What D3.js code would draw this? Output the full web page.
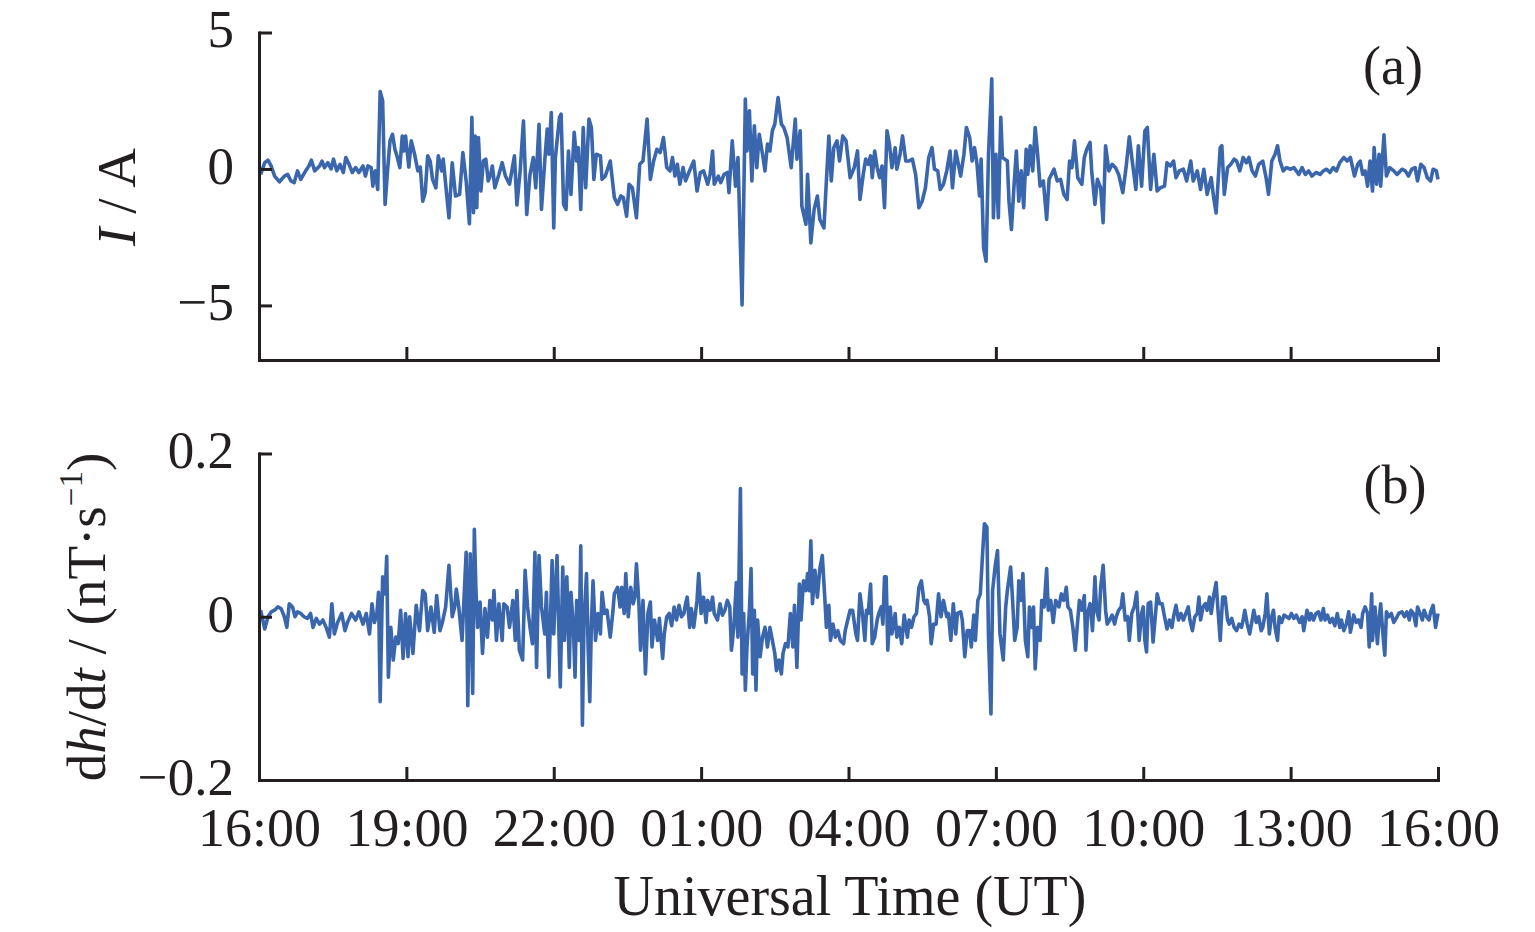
<!DOCTYPE html>
<html><head><meta charset="utf-8">
<script src="https://cdn.jsdelivr.net/npm/d3@7"></script>
<style>
body{margin:0;background:#fff;}
svg{display:block;}
text{font-family:"Liberation Serif","Times New Roman",serif;fill:#231f20;}
</style>
</head><body>
<svg id="chart" width="1535" height="932"></svg>
<script>
// ---- Data: minutes since 16:00 UT ----
const timeA = [2,7,11,15,19,25,31,35,39,43,47,51,57,61,64,68,74,77,80,84,88,91,95,99,103,106,110,114,118,122,127,130,133,137,139,142,145,148,151,154,157,160,163,166,169,172,175,177,179,183,186,190,194,197,200,203,206,209,212,216,219,223,225,228,232,236,240,245,249,253,257,260,262,264,266,268,271,274,277,280,283,285,288,293,297,301,306,312,315,319,323,327,331,335,338,342,345,349,352,354,357,360,362,
367,369,372,375,378,381,385,388,390,393,396,399,403,406,409,412,417,419,423,429,434,438,442,445,449,452,456,461,465,469,474,478,482,486,490,494,498,502,505,508,511,514,518,521,525,531,535,539,543,548,551,554,556,561,564,568,572,574,578,582,585,590,594,596,599,602,605,608,611,615,618,621,624,627,630,634,638,641,645,650,655,657,661,663,668,670,674,678,682,685,690,693,696,699,702,706,709,713,717,722,
727,731,734,738,741,744,747,749,752,755,758,761,764,767,770,773,777,779,783,786,790,794,798,802,806,810,814,818,822,825,829,832,836,840,844,847,851,857,861,864,868,871,874,877,880,882,885,888,891,895,897,900,903,906,908,914,916,919,922,925,928,931,934,937,939,942,945,948,951,954,958,962,965,971,975,979,983,987,990,993,996,1000,1005,1008,1011,1015,1017,1021,1024,1028,1031,1034,1038,1042,1046,1050,1055,1059,1063,1066,1071,1074,1078,1082,
1085,1089,1093,1097,1101,1106,1109,1113,1117,1120,1124,1129,1133,1138,1141,1146,1150,1154,1158,1163,1166,1169,1174,1176,1179,1183,1187,1191,1194,1198,1202,1206,1209,1213,1217,1221,1226,1230,1233,1237,1241,1244,1247,1251,1255,1260,1264,1270,1274,1278,1282,1286,1291,1296,1300,1304,1308,1312,1316,1320,1325,1329,1333,1338,1342,1345,1348,1351,1354,1357,1360,1362,1365,1368,1370,1374,1377,1381,1386,1390,1396,1400,1404,1408,1412,1415,1419,1423,1427,1431,1434,1438,1440];

// Induced current I (A)
const currentA = [-0.2,0.23,0.32,0.1,-0.26,-0.47,-0.26,-0.2,-0.44,-0.5,-0.07,-0.38,-0.07,0.11,0.32,-0.07,0.11,0.29,0.05,0.23,0,0.36,-0.07,0.17,-0.13,0.42,0.17,-0.13,0.05,-0.13,0.11,-0.26,0.11,0.05,-0.63,-0.07,-0.75,2.84,2.5,-1.3,-0.07,1.03,1.27,0.72,0.42,0.05,1.21,0.66,1.21,0.07,1.03,0.54,-0.07,0.07,-1.18,-0.87,0.48,0.29,-0.38,-0.69,0.48,-0.07,0.36,-0.56,-1.79,0.23,-0.99,-0.93,0.6,-0.44,-2.01,1.89,-1.6,1.21,-1.42,1.15,-0.81,0.29,0.36,-0.44,-0.2,0.11,-0.69,-0.2,0.23,-0.26,-0.56,0.48,-1.32,-0.07,1.76,-1.67,-0.2,0.42,-0.69,1.64,-1.48,0.29,1.46,0.54,2.07,-2.16,0.42,
1.89,2.01,-1.3,-1.48,0.66,-0.93,1.34,0.29,0.78,-1.48,1.52,-0.69,1.83,1.52,-0.38,0.54,0.48,-0.38,-0.26,0.29,-1.05,-1.3,-0.99,-1.05,-1.73,-0.56,-0.69,-1.79,0.17,0.29,1.83,-0.38,0.29,0.72,0.6,1.15,0.05,-0.07,0.42,-0.26,0.17,-0.56,0.05,-0.44,-0.13,0.29,-0.81,-0.13,-0.07,-0.56,-0.2,0.66,-0.56,-0.26,-0.5,-0.2,-0.13,-0.87,1.03,-0.63,0.42,-4.98,2.56,0.66,2.13,-0.44,1.58,0.05,1.27,0.54,-0.07,0.91,0.66,1.4,1.64,2.62,1.64,1.52,1.15,0.05,1.83,0.36,1.4,-1.36,-2.03,-0.2,-2.71,-1.48,-0.99,-1.85,-2.16,-0.44,1.21,-0.44,0.78,1.03,0.29,1.21,1.03,-0.32,
0.05,0.66,-1.12,-0.2,0.36,0.17,0.48,-0.32,0.66,0.05,-0.32,0.11,-1.42,1.4,0.91,0.05,0.78,-0.01,0.54,1.21,0.29,0.29,0.36,-0.2,-1.42,-1.18,-0.69,0.42,0.78,-0.01,-0.07,-0.75,-0.56,-0.07,0.66,-0.69,0.66,-0.26,0.54,1.52,1.15,0.29,0.78,0.17,-0.99,0.36,-2.89,-3.38,0.54,3.3,-1.79,0.54,-1.79,1.89,0.42,0.29,-1.18,-2.22,-0.69,0.66,-1.18,-0.07,-1.42,0.72,-0.2,0.85,-0.07,1.52,0.54,-0.63,-0.44,-1.85,-0.38,-0.01,-0.44,-0.38,-0.93,-1.12,0.29,0.05,1.03,-0.32,-0.56,0.42,0.72,0.97,-0.07,-1.3,-0.38,-0.69,-1.97,0.85,-0.07,0.17,0.05,-0.2,-0.87,0.05,1.18,0.42,-0.75,0.85,-0.63,1.4,
1.52,-0.75,0.54,-0.81,-0.69,-0.63,0.23,0.11,0.29,-0.32,-0.07,-0.01,-0.44,0.29,-0.44,-0.07,-0.75,-0.01,-0.93,-0.32,-1.05,-1.61,0.78,0.85,-0.93,0.05,0.17,0.36,0.29,-0.07,0.42,0.23,0.42,-0.07,-0.26,0.17,0.29,-0.32,-0.93,0.29,0.54,0.85,0.29,-0.07,0.05,-0.01,0.05,-0.2,0.05,-0.2,-0.07,-0.26,-0.13,-0.2,-0.07,-0.01,-0.13,0.05,-0.07,0.23,0.42,0.29,0.42,-0.26,0.17,0.29,-0.2,-0.07,-0.63,0.29,-0.81,0.78,-0.56,0.54,-0.63,1.25,-0.26,0.05,-0.07,-0.2,-0.01,-0.07,-0.26,-0.01,0.05,-0.44,0.17,0.05,-0.32,-0.44,-0.01,-0.07,-0.38];

const timeB = [2,7,11,15,19,23,27,31,34,37,41,44,47,51,55,59,63,66,70,74,78,82,86,89,92,96,101,105,108,113,118,122,127,131,135,138,141,144,146,148,151,154,156,158,161,164,167,170,173,176,179,182,184,188,192,196,200,203,206,210,214,217,221,224,228,232,236,239,241,244,248,253,255,258,261,263,265,267,270,273,276,279,282,285,287,290,293,297,299,303,306,310,313,315,318,322,325,328,331,334,337,339,342,345,349,351,354,358,360,
364,368,371,373,376,379,381,384,386,388,391,393,395,397,400,402,404,406,408,411,414,417,419,422,425,429,432,434,438,441,443,446,448,451,454,457,459,461,464,466,469,472,475,478,480,483,487,489,493,495,498,501,504,507,510,513,516,519,521,523,526,528,531,535,537,540,543,546,548,551,554,556,560,563,566,569,572,575,577,580,583,585,588,590,592,594,596,599,601,603,605,607,609,612,615,618,621,624,627,630,632,635,638,640,643,646,649,652,654,657,660,662,665,668,670,672,674,676,679,682,685,688,691,693,696,698,701,704,707,710,714,716,720,722,
725,729,731,734,737,740,742,744,747,749,752,755,757,760,762,764,766,768,771,773,777,779,782,785,788,792,794,797,800,803,806,809,812,814,816,819,821,824,827,830,833,836,840,842,845,848,851,853,857,859,862,865,868,870,873,875,878,881,884,886,889,891,894,896,899,902,905,909,912,914,918,920,923,926,928,931,933,936,939,941,943,946,948,951,954,956,959,962,964,967,970,973,977,980,983,986,988,991,994,997,1000,1002,1005,1008,1010,1012,1015,1018,1021,1023,1026,1028,1031,1034,1036,1039,1042,1045,1047,1050,1053,1055,1058,1061,1063,1066,1069,1072,1075,1078,1080,
1082,1084,1086,1089,1092,1095,1097,1100,1103,1106,1109,1112,1115,1117,1120,1123,1126,1129,1132,1135,1137,1140,1143,1146,1148,1150,1153,1156,1158,1161,1163,1166,1169,1171,1174,1177,1180,1183,1185,1188,1191,1194,1197,1200,1202,1204,1207,1210,1213,1215,1218,1221,1224,1226,1229,1231,1234,1236,1239,1241,1244,1246,1249,1252,1255,1258,1261,1264,1267,1271,1274,1276,1280,1283,1285,1288,1291,1294,1297,1300,1302,1305,1308,1311,1314,1317,1320,1322,1325,1328,1331,1333,1337,1340,1343,1346,1348,1351,1354,1356,1359,1360,1363,1366,1368,1370,1373,1375,1377,1380,1383,1386,1390,1392,1396,1399,1402,1405,1407,1410,1413,1415,1418,1421,1423,1426,1429,1431,1434,1437,1440];

// Geomagnetic field rate of change dh/dt (nT/s)
const dhdtB = [0.008,-0.015,0,0.006,0.008,0.012,0.010,0,-0.013,0.016,0.012,0,0.006,0.004,0,-0.002,0.004,-0.013,-0.002,-0.009,-0.004,-0.013,-0.025,0.016,-0.021,-0.007,0.004,-0.017,-0.007,0.004,-0.004,0.006,-0.009,0.004,-0.021,0.016,-0.007,0.004,0.030,-0.104,0.049,0.028,0.074,-0.074,-0.013,-0.053,-0.025,-0.033,0.008,-0.051,0.004,-0.049,0,-0.045,0.014,-0.017,0.032,0.028,-0.017,0.012,-0.019,0.026,-0.017,-0.007,0.012,0.063,0,0.012,0.034,0.012,-0.029,0.079,-0.109,0.077,-0.094,0.107,0.032,-0.013,0.018,-0.045,0.010,-0.025,0.020,-0.004,0.032,-0.029,0.016,-0.029,0.016,0.012,-0.013,0.020,-0.029,0.032,-0.041,-0.053,0.057,0.012,-0.013,-0.033,0.079,-0.062,0.075,0.012,-0.021,0.030,-0.074,0.069,-0.021,
0.075,-0.086,0.061,-0.029,0.049,-0.062,0.030,-0.013,-0.074,0.020,-0.029,0.087,-0.133,-0.004,0.053,-0.037,-0.104,-0.007,0.044,-0.029,0.004,-0.021,0.030,0.004,0.008,-0.025,0.004,0.028,0.036,0.012,0.036,0.004,0.053,0,0.036,0.016,0.024,0.065,0.016,-0.041,0.020,-0.070,0.004,0.018,-0.037,-0.004,-0.029,-0.002,-0.051,-0.021,0,0.004,-0.011,0.012,-0.004,0.014,0,0.004,0.016,0.024,-0.013,0.010,-0.013,0.020,0.053,0.004,0.024,-0.007,0.020,0.008,0.024,0.004,-0.004,0.016,0.002,0.008,0.020,0.012,-0.041,-0.013,0.042,-0.025,0.157,-0.070,0.004,-0.090,-0.037,0.008,0.059,-0.070,0.008,-0.090,-0.004,-0.049,-0.025,-0.013,-0.037,-0.013,-0.029,-0.045,-0.066,-0.053,-0.070,-0.045,-0.033,-0.037,0.004,-0.037,0.014,-0.062,0.040,-0.004,0.044,0.032,0.053,0.032,0.093,0.016,0.057,0.024,0.059,0.075,0.024,-0.013,0.014,-0.029,-0.009,-0.025,-0.017,-0.029,-0.033,-0.017,0,0.008,
0.008,-0.021,-0.029,0.028,0.004,-0.029,0.008,0.004,0.040,-0.033,-0.025,-0.004,0.004,0.012,-0.009,0.049,0.049,-0.041,0.012,-0.021,0.004,-0.025,-0.013,-0.033,0.002,-0.025,-0.004,-0.013,0,0.004,0.036,0.044,0.020,0.016,0.020,0,-0.033,-0.009,-0.009,0.028,0,0.020,0,0.004,-0.029,0.016,-0.021,0.004,0.006,-0.004,-0.049,-0.017,-0.017,-0.037,0.002,-0.029,0.020,0.028,0.081,0.114,0.110,-0.025,-0.119,0.032,0.061,0.081,-0.021,-0.053,0.012,0.032,0.061,0.028,-0.029,-0.013,0.044,0.020,0.053,-0.029,-0.049,0.012,-0.013,0.012,-0.064,-0.013,-0.029,0.020,0.012,0.059,0.008,0.020,-0.007,0.020,0.012,0.028,0.020,0.036,0.012,0.008,-0.013,-0.041,-0.004,0.020,0.008,0.026,-0.041,0.004,0.016,-0.017,0.049,0.008,-0.004,0.036,0.063,0.008,-0.009,-0.004,0.002,-0.009,0,0.008,0.012,0.028,-0.004,0,-0.029,0.004,0.012,0.030,-0.029,0.004,0.012,
-0.029,-0.043,0.016,0.018,-0.031,0.004,0.028,0.016,0.016,0,-0.015,-0.004,-0.013,0,0.014,-0.004,0.004,-0.004,0.004,0.012,-0.004,-0.017,0,0.004,0.024,-0.004,0.012,0.016,0.008,0.024,0.004,0.026,0.042,0.012,-0.029,0.024,0.024,-0.004,-0.009,-0.002,-0.013,-0.017,-0.009,-0.013,-0.004,0.008,-0.009,-0.021,-0.004,0.008,-0.007,0,-0.017,-0.013,0.004,0.028,-0.021,-0.004,0.008,-0.013,-0.029,0,-0.007,0.002,0,-0.002,0.004,-0.002,0.002,-0.007,0,-0.017,0.008,-0.004,0.004,-0.004,0.004,0.006,-0.004,0.010,-0.004,0.002,-0.007,-0.002,-0.011,0.004,-0.013,-0.004,-0.017,-0.009,0.006,-0.019,0.002,-0.007,-0.004,-0.013,0.004,0.012,0.004,-0.037,0.028,-0.029,0.012,-0.033,-0.004,0.016,-0.025,-0.047,0.006,0,0.004,-0.007,0,0.004,0.006,0,0.006,-0.004,0.008,0.004,-0.011,0.012,0.004,-0.004,0.008,0,-0.004,0.006,0.014,-0.013,0.004];

const xTickMinutes = [0,180,360,540,720,900,1080,1260,1440];
const xTickLabels = ["16:00","19:00","22:00","01:00","04:00","07:00","10:00","13:00","16:00"];
const yTicksA = [5,0,-5];
const yTickLabelsA = ["5","0","\u22125"];
const yTicksB = [0.2,0,-0.2];
const yTickLabelsB = ["0.2","0","\u22120.2"];

// ---- Drawing ----
const svg = d3.select("#chart");
const INK = "#231f20";
const LINE = "#3a66ad";
const FONT = "'Liberation Serif','Times New Roman',serif";

const x = d3.scaleLinear().domain([0,1440]).range([259,1438]);
const yA = d3.scaleLinear().domain([-7,5]).range([360,32.5]);
const yB = d3.scaleLinear().domain([-0.2,0.2]).range([780,453.5]);

function zip(t, v){ const n=Math.min(t.length,v.length); return d3.range(n).map(i=>[t[i],v[i]]); }

function drawLine(data, y){
  svg.append("path")
    .datum(data)
    .attr("fill","none")
    .attr("stroke",LINE)
    .attr("stroke-width",3.6)
    .attr("stroke-linejoin","round")
    .attr("d", d3.line().x(d=>x(d[0])).y(d=>y(d[1])));
}
drawLine(zip(timeA,currentA), yA);
drawLine(zip(timeB,dhdtB), yB);

function styleAxis(g, fs){
  g.attr("font-family",FONT).attr("font-size",fs);
  g.select(".domain").attr("stroke",INK).attr("stroke-width",3).attr("stroke-linecap","square");
  g.selectAll(".tick line").attr("stroke",INK).attr("stroke-width",3);
  g.selectAll(".tick text").attr("fill",INK);
}

function yAxis(y, ticks, labels){
  const g = svg.append("g").attr("transform","translate(259,0)")
    .call(d3.axisLeft(y).tickValues(ticks).tickFormat((d,i)=>labels[i])
      .tickSizeInner(-13).tickSizeOuter(0).tickPadding(25));
  styleAxis(g, 53);
  g.selectAll(".tick text").attr("dy","0.27em");
}
function xAxis(yPos, labels){
  const g = svg.append("g").attr("transform",`translate(0,${yPos})`)
    .call(d3.axisBottom(x).tickValues(xTickMinutes).tickFormat((d,i)=>labels?labels[i]:"")
      .tickSizeInner(-13).tickSizeOuter(0).tickPadding(28));
  styleAxis(g, 54);
}
yAxis(yA, yTicksA, yTickLabelsA);
xAxis(360, null);
yAxis(yB, yTicksB, yTickLabelsB);
xAxis(780, xTickLabels);

// Panel labels
svg.append("text").attr("x",1393).attr("y",84).attr("text-anchor","middle")
  .attr("font-size",54).attr("font-family",FONT).text("(a)");
svg.append("text").attr("x",1395).attr("y",503).attr("text-anchor","middle")
  .attr("font-size",54).attr("font-family",FONT).text("(b)");

// Axis titles
svg.append("text").attr("x",850).attr("y",915).attr("text-anchor","middle")
  .attr("font-size",56).attr("font-family",FONT).text("Universal Time (UT)");

const tA = svg.append("text").attr("transform","translate(135,197) rotate(-90)")
  .attr("text-anchor","middle").attr("font-size",55).attr("font-family",FONT);
tA.append("tspan").attr("font-style","italic").text("I");
tA.append("tspan").text(" / A");

const tB = svg.append("text").attr("transform","translate(105,617) rotate(-90)")
  .attr("text-anchor","middle").attr("font-size",55).attr("font-family",FONT);
tB.append("tspan").text("d");
tB.append("tspan").attr("font-style","italic").text("h");
tB.append("tspan").text("/d");
tB.append("tspan").attr("font-style","italic").text("t");
tB.append("tspan").text(" / (nT\u00b7s");
tB.append("tspan").attr("font-size",33).attr("dy","-0.7em").text("\u22121");
tB.append("tspan").attr("dy","0.42em").text(")");
</script>
</body></html>
